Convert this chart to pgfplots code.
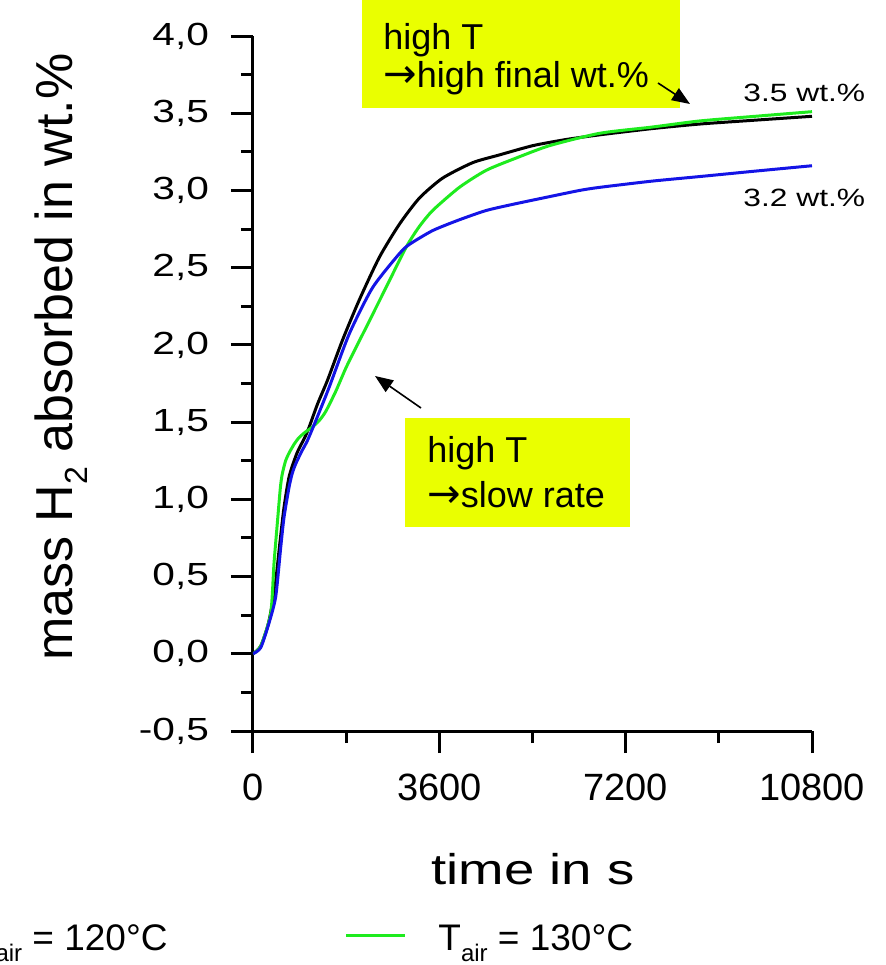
\documentclass[border=0pt]{standalone}
\usepackage{pgfplots}
\pgfplotsset{compat=1.18}
\usetikzlibrary{arrows.meta}
\usepackage{fontspec}
\setmainfont{Liberation Sans}
\newfontfamily\widefont[FakeStretch=1.27]{Liberation Sans}
\newfontfamily\arrowfont{DejaVu Sans}
\definecolor{hl}{RGB}{234,255,0}
\definecolor{cgreen}{RGB}{30,235,30}
\definecolor{cblue}{RGB}{20,20,230}

\pgfplotstableread{
t v
0 0
150 0.05
300 0.2
420 0.42
520 0.72
600 0.95
700 1.15
850 1.30
1000 1.40
1084 1.467
1250 1.62
1438 1.77
1728 2.03
2052 2.29
2439 2.566
2826 2.78
3213 2.95
3664 3.08
4245 3.18
4761 3.23
5406 3.29
6052 3.33
6697 3.36
7700 3.40
8632 3.43
9700 3.455
10800 3.48
}\blackdata

\pgfplotstableread{
t v
0 0
150 0.05
342 0.26
406 0.586
470 0.845
530 1.08
567 1.166
630 1.25
697 1.30
800 1.36
890 1.40
1010 1.435
1142 1.467
1280 1.51
1407 1.57
1600 1.70
1794 1.85
2000 1.99
2181 2.11
2568 2.37
2955 2.63
3200 2.76
3470 2.87
3987 3.02
4504 3.13
5085 3.21
5729 3.29
6697 3.37
7700 3.41
8632 3.45
9700 3.48
10800 3.51
}\greendata

\pgfplotstableread{
t v
0 0
150 0.04
310 0.2
439 0.37
536 0.69
600 0.885
697 1.079
760 1.17
826 1.23
940 1.31
1051 1.38
1214 1.51
1471 1.725
1858 2.07
2309 2.37
2826 2.59
3019 2.65
3470 2.74
3987 2.81
4504 2.87
5019 2.91
5729 2.96
6310 3.00
6697 3.02
7700 3.06
8632 3.09
9700 3.125
10800 3.16
}\bluedata

\begin{document}
\begin{tikzpicture}[x=0.5pt,y=0.5pt]
\begin{axis}[
  at={(126.5pt,117pt)}, anchor=south west,
  scale only axis, width=279.5pt, height=347.5pt,
  xmin=0, xmax=10800, ymin=-0.5, ymax=4,
  axis x line=bottom, axis y line=left,
  axis line style={-, line width=1.5pt},
  xtick={0,3600,7200,10800},
  ytick={-0.5,0,0.5,1,1.5,2,2.5,3,3.5,4},
  minor x tick num=1, minor y tick num=1,
  tick align=outside, major tick length=11pt, minor tick length=6pt,
  every tick/.style={black, line width=1.5pt},
  scaled x ticks=false,
  /pgf/number format/assume math mode=true,
  x tick label style={font=\fontsize{19}{19}\selectfont,
    /pgf/number format/fixed, /pgf/number format/precision=0,
    /pgf/number format/1000 sep={}, yshift=-7pt},
  y tick label style={font=\widefont\fontsize{16}{16}\selectfont,
    /pgf/number format/fixed, /pgf/number format/fixed zerofill,
    /pgf/number format/precision=1, /pgf/number format/use comma, xshift=-7.5pt},
]
\addplot[black, line width=1.5pt, smooth, tension=0.4] table[x=t,y=v] {\blackdata};
\addplot[cgreen, line width=1.5pt, smooth, tension=0.4] table[x=t,y=v] {\greendata};
\addplot[cblue, line width=1.5pt, smooth, tension=0.4] table[x=t,y=v] {\bluedata};
\end{axis}

% annotation boxes
\fill[hl] (362,965) rectangle (680,857);
\node[anchor=base west, inner sep=0, font=\fontsize{18}{18}\selectfont] at (383,915) {high T};
\node[anchor=base west, inner sep=0, font=\fontsize{18}{18}\selectfont] at (383,877) {{\arrowfont\fontsize{20}{20}\selectfont →}high final wt.\%};
\draw[line width=0.8pt, -{Triangle[length=9pt,width=7pt]}] (658,882) -- (690,861);

\fill[hl] (405,547) rectangle (630,438);
\node[anchor=base west, inner sep=0, font=\fontsize{18}{18}\selectfont] at (427,502) {high T};
\node[anchor=base west, inner sep=0, font=\fontsize{18}{18}\selectfont] at (427,457) {{\arrowfont\fontsize{20}{20}\selectfont →}slow rate};
\draw[line width=0.8pt, -{Triangle[length=9pt,width=7pt]}] (421,557) -- (375,589);

% end labels
\node[anchor=base west, inner sep=0, font=\widefont\fontsize{12.5}{12.5}\selectfont] at (743,863) {3.5 wt.\%};
\node[anchor=base west, inner sep=0, font=\widefont\fontsize{12.5}{12.5}\selectfont] at (743,758) {3.2 wt.\%};

% axis titles
\node[anchor=base, inner sep=0, font=\widefont\fontsize{21.5}{21.5}\selectfont] at (533,80) {time in s};
\node[anchor=base, inner sep=0, rotate=90, font=\fontsize{26}{26}\selectfont] at (72,608)
  {mass H\raisebox{-0.3em}{\fontsize{16}{16}\selectfont 2} absorbed in wt.\%};

% legend
\draw[cgreen, line width=1.5pt] (346,29) -- (405,29);
\node[anchor=base west, inner sep=0, font=\fontsize{18.5}{18.5}\selectfont] at (438,15)
  {T\raisebox{-0.3em}{\fontsize{12}{12}\selectfont air} = 130°C};
\node[anchor=base east, inner sep=0, font=\fontsize{18.5}{18.5}\selectfont] at (168,15)
  {T\raisebox{-0.3em}{\fontsize{12}{12}\selectfont air} = 120°C};

\pgfresetboundingbox
\useasboundingbox (0,0) rectangle (885,965);
\end{tikzpicture}
\end{document}
